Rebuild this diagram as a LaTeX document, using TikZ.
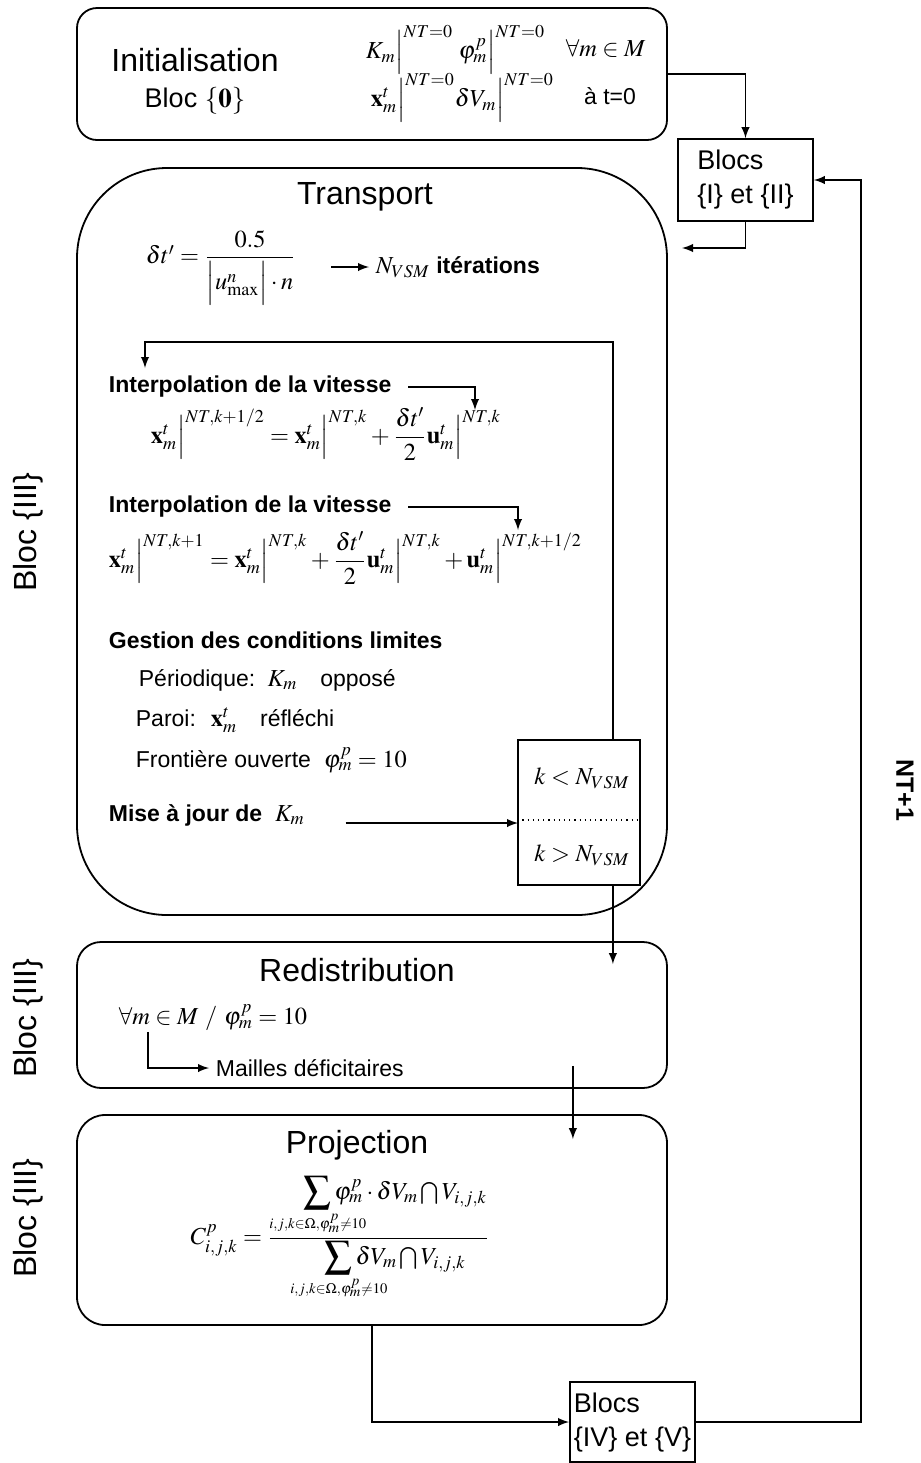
\documentclass[tikz,border=0pt]{standalone}
\usepackage{amsmath}
\usepackage{mathtools}
\usepackage{amssymb}
\usepackage{mathptmx}
\usepackage[no-math]{fontspec}
\setmainfont{Liberation Sans}
\usepackage{tikz}
\usetikzlibrary{arrows,shapes,calc}

\newcommand{\eqsize}{\fontsize{12.2}{15}\selectfont}
\newcommand{\gsum}{\mathop{\vcenter{\hbox{\scalebox{1.6}{$\sum$}}}}\limits}
\tikzset{
  bloc/.style={draw, rounded corners=#1, minimum width=295pt, inner sep=0pt},
  petitbloc/.style={draw, rectangle, align=left, inner sep=2pt, font=\fontsize{13.5}{17}\selectfont},
  titre/.style={font=\fontsize{16}{19}\selectfont, inner sep=0pt},
  texte/.style={font=\fontsize{11.5}{14}\selectfont, inner sep=0pt},
  gras/.style={font=\fontsize{11.5}{14}\selectfont\bfseries, inner sep=0pt},
  eq/.style={font=\eqsize, inner sep=0pt},
}

\begin{document}
\begin{tikzpicture}[x=0.5pt,y=-0.5pt,>=latex,line width=0.9pt]
    \useasboundingbox (0,0) rectangle (921,1463);

    % les blocs
    \node[bloc=10pt, minimum height=66pt] (init) at (372,74) {};
    \node[bloc=45pt, minimum height=373.5pt] (transp) at (372,541.5) {};
    \node[bloc=12pt, minimum height=73pt] (redis) at (372,1015) {};
    \node[bloc=14pt, minimum height=105pt] (proj) at (372,1220) {};
    \node[petitbloc, minimum width=67.5pt, minimum height=41pt] (b12) at (745.5,180) {Blocs\\\{I\} et \{II\}};
    \node[petitbloc, minimum width=60.5pt, minimum height=40pt] (b45) at (632.5,1422) {Blocs\\\{IV\} et \{V\}};
    \node[draw, minimum width=61pt, minimum height=72.5pt] (kbox) at (579,812.5) {};
    \draw[dotted, line width=0.6pt] ([yshift=-3.75pt]kbox.west) -- ([yshift=-3.75pt]kbox.east);
    \node[eq] (kinf) at (582,778) {$k < N_{VSM}$};
    \node[eq] (ksup) at (582,855) {$k > N_{VSM}$};

    % initialisation
    \node[titre] (tinit) at (195,60) {Initialisation};
    \node[font=\fontsize{13.5}{16}\selectfont] (bloc0) at (195,101) {Bloc $\{\mathbf{0}\}$};
    \node[eq, anchor=west] (kinit) at (365,50) {$K_m\Big|^{NT=0}\;\varphi^p_m\Big|^{NT=0}$};
    \node[eq, anchor=west] (pourtout) at (565,48) {$\forall m\in M$};
    \node[eq, anchor=west] (xinit) at (370,98) {$\mathbf{x}^t_m\Big|^{NT=0}\delta V_m\Big|^{NT=0}$};
    \node[texte] (at0) at (610,96) {à t=0};

    % transport
    \node[titre] (ttransp) at (365,197) {Transport};
    \node[eq, anchor=west] (dt) at (145,268) {$\delta t' = \dfrac{0.5}{\Big|u^n_{\max}\Big|\cdot n}$};
    \node[texte, anchor=west] (nvsm) at (375,267) {{\eqsize$N_{VSM}$} \textbf{itérations}};
    \draw[->] ([xshift=-22pt]nvsm.west) -- ([xshift=-3pt]nvsm.west);

    \node[gras, anchor=west] (interp1) at (108,387) {Interpolation de la vitesse};
    \node[eq, anchor=west] (eq1) at (150,434) {$\mathbf{x}^t_m\Big|^{NT,k+1/2} = \mathbf{x}^t_m\Big|^{NT,k} + \dfrac{\delta t'}{2}\mathbf{u}^t_m\Big|^{NT,k}$};
    \node[gras, anchor=west] (interp2) at (108,507) {Interpolation de la vitesse};
    \node[eq, anchor=west] (eq2) at (108,558) {$\mathbf{x}^t_m\Big|^{NT,k+1} = \mathbf{x}^t_m\Big|^{NT,k} + \dfrac{\delta t'}{2}\mathbf{u}^t_m\Big|^{NT,k} + \mathbf{u}^t_m\Big|^{NT,k+1/2}$};
    \coordinate (c1) at (475,410);
    \coordinate (c2) at (518,530);
    \draw[->] ([xshift=8pt]interp1.east) -| (c1);
    \draw[->] ([xshift=8pt]interp2.east) -| (c2);

    \node[gras, anchor=west] (gestion) at (108,640) {Gestion des conditions limites};
    \node[texte, anchor=west] (period) at (138,680) {Périodique: \,{\eqsize$K_m$}\quad opposé};
    \node[texte, anchor=west] (paroi) at (135,720) {Paroi: \;{\eqsize$\mathbf{x}^t_m$}\quad réfléchi};
    \node[texte, anchor=west] (front) at (135,760) {Frontière ouverte\; {\eqsize$\varphi^p_m = 10$}};
    \node[gras, anchor=west] (maj) at (108,815) {Mise à jour de \;{\eqsize$K_m$}};
    \coordinate (majfin) at (518,823);
    \draw[->] ([xshift=20pt,yshift=-4pt]maj.east) -- (majfin);

    % boucle
    \coordinate (boucle) at (145,368);
    \draw[->] ([xshift=-14pt]kbox.north east) -- ++(0,-397) -| (boucle);

    % redistribution
    \node[titre] (tredis) at (357,970) {Redistribution};
    \node[eq, anchor=west] (condred) at (118,1018) {$\forall m\in M\ /\ \varphi^p_m = 10$};
    \node[texte, anchor=west] (mailles) at (215,1068) {Mailles déficitaires};
    \draw[->] ([xshift=15pt]condred.south west) |- ([xshift=-3pt]mailles.west);

    % projection
    \node[titre] (tproj) at (357,1145) {Projection};
    \node[eq] (cproj) at (340,1238) {$C^p_{i,j,k} = \dfrac{\hspace{17pt}\gsum_{\mathclap{\scriptscriptstyle i,j,k\in\Omega,\varphi^p_m\neq 10}}\varphi^p_m\cdot\delta V_m\bigcap V_{i,j,k}}{\hspace{17pt}\gsum_{\mathclap{\scriptscriptstyle i,j,k\in\Omega,\varphi^p_m\neq 10}}\delta V_m\bigcap V_{i,j,k}}$};

    % liaisons
    \coordinate (entree) at (682,248);
    \draw[->] (init.east) -| (b12.north);
    \draw[->] (b12.south) |- (entree);
    \draw[->] ([xshift=-14pt]kbox.south east) -- ([xshift=-27.5pt,yshift=-11.5pt]redis.north east);
    \draw[->] ([xshift=-47.5pt,yshift=11.5pt]redis.south east) -- ([xshift=-47.5pt,yshift=-12.5pt]proj.north east);
    \draw[->] (proj.south) |- (b45.west);
    \draw[->] (b45.east) -- ++(165,0) |- (b12.east);

    % etiquettes laterales
    \node[titre, rotate=90] (bloc3a) at (28,532) {Bloc \{III\}};
    \node[titre, rotate=90] (bloc3b) at (28,1018) {Bloc \{III\}};
    \node[titre, rotate=90] (bloc3c) at (28,1218) {Bloc \{III\}};
    \node[font=\fontsize{12.5}{15}\selectfont\bfseries, rotate=-90] (nt) at (905,790) {NT+1};

  \end{tikzpicture}
\end{document}
